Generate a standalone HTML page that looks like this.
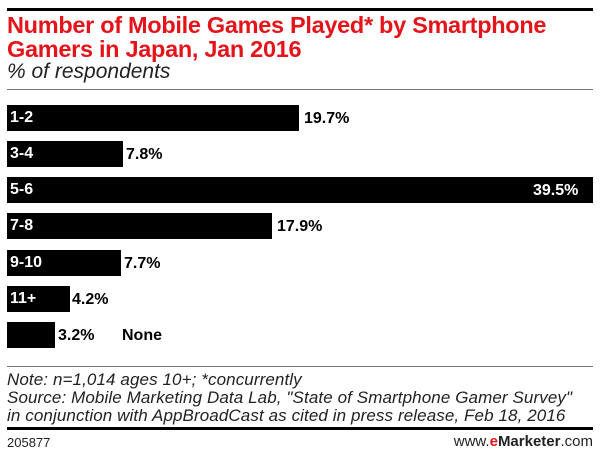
<!DOCTYPE html>
<html><head><meta charset="utf-8"><style>
body{margin:0;width:600px;height:456px;background:#fff;position:relative;font-family:"Liberation Sans",sans-serif;overflow:hidden}
.a{position:absolute}
.t{color:#e4141b;font-weight:bold;font-size:23.5px;left:7px;letter-spacing:-0.3px;white-space:nowrap}
.bar{position:absolute;left:7px;height:26px;background:#000}
.lb{position:absolute;left:10px;color:#fff;font-weight:bold;font-size:16px;line-height:26px}
.v{position:absolute;font-weight:bold;font-size:16px;line-height:26px;color:#000}
.n{font-style:italic;font-size:17px;color:#222;left:7px;white-space:nowrap;letter-spacing:0.1px}
</style></head><body>
<div class="a" style="left:7px;top:8px;width:586px;height:3px;background:#000"></div>
<div class="a t" style="top:12px">Number of Mobile Games Played* by Smartphone</div>
<div class="a t" style="top:36px">Gamers in Japan, Jan 2016</div>
<div class="a" style="left:7px;top:60px;font-style:italic;font-size:21px;color:#222">% of respondents</div>
<div class="a" style="left:7px;top:89px;width:586px;height:1px;background:#777"></div>

<div class="bar" style="top:105px;width:292px"></div><div class="lb" style="top:105px">1-2</div><div class="v" style="top:106px;left:304px">19.7%</div>
<div class="bar" style="top:141px;width:116px"></div><div class="lb" style="top:141px">3-4</div><div class="v" style="top:142px;left:126px">7.8%</div>
<div class="bar" style="top:177px;width:586px"></div><div class="lb" style="top:177px">5-6</div><div class="v" style="top:178px;left:533px;color:#fff">39.5%</div>
<div class="bar" style="top:213px;width:265px"></div><div class="lb" style="top:213px">7-8</div><div class="v" style="top:214px;left:277px">17.9%</div>
<div class="bar" style="top:250px;width:114px"></div><div class="lb" style="top:250px">9-10</div><div class="v" style="top:251px;left:124px">7.7%</div>
<div class="bar" style="top:286px;width:63px"></div><div class="lb" style="top:286px">11+</div><div class="v" style="top:287px;left:72px">4.2%</div>
<div class="bar" style="top:322px;width:48px"></div><div class="v" style="top:323px;left:58px">3.2%</div><div class="v" style="top:323px;left:122px">None</div>

<div class="a" style="left:7px;top:366px;width:586px;height:1px;background:#777"></div>
<div class="a n" style="top:370px">Note: n=1,014 ages 10+; *concurrently</div>
<div class="a n" style="top:388px">Source: Mobile Marketing Data Lab, "State of Smartphone Gamer Survey"</div>
<div class="a n" style="top:406px">in conjunction with AppBroadCast as cited in press release, Feb 18, 2016</div>
<div class="a" style="left:7px;top:427px;width:586px;height:3px;background:#000"></div>
<div class="a" style="left:7px;top:435px;font-size:13px;color:#222">205877</div>
<div class="a" style="right:7px;top:433px;font-size:15px;color:#222">www.<b style="color:#e4141b">e</b><b>Marketer</b>.com</div>
</body></html>
